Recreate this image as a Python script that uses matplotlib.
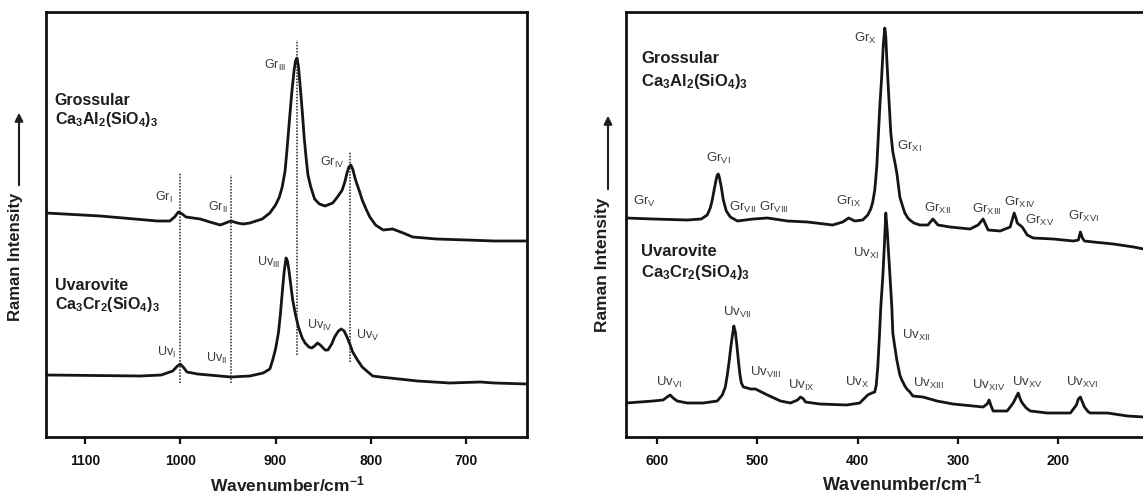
import matplotlib
matplotlib.use('Agg')
import matplotlib.pyplot as plt
from matplotlib.patches import FancyArrowPatch

plt.rcParams['font.family'] = ['Liberation Sans', 'DejaVu Sans']
plt.rcParams['mathtext.default'] = 'regular'

# ---------------- data (left panel: 1140-640 cm-1) ----------------
grL_wn = [1141, 1084, 1024, 1011, 1006, 1002, 998, 994, 979, 969,
          958, 947, 940, 934, 927, 914, 906, 900, 896, 893,
          890, 888, 885.5, 883, 880.5, 879, 877.5, 876, 874.5, 873,
          871.5, 870, 868, 866, 863, 859, 854, 848, 840, 835,
          830, 827, 825, 823, 821, 819, 816, 812, 809, 805,
          801, 795, 787, 777, 766, 756, 731, 699, 670, 636]
grL_int = [224, 221, 216, 216, 220, 225, 223, 220, 218, 215,
           212, 216, 214, 213, 214, 218, 224, 232, 240, 250,
           266, 287, 316, 344, 367, 376, 379, 371, 355, 338,
           320, 300, 280, 262, 250, 238, 233, 231, 234, 240,
           247, 256, 264, 270, 272, 268, 257, 246, 237, 228,
           220, 212, 207, 208, 204, 200, 198, 197, 196, 196]

uvL_wn = [1140, 1042, 1020, 1008, 1003, 1000, 997, 993, 982, 947,
          927, 913, 906, 903, 900, 897, 895, 893, 891, 889,
          887.5, 886, 884, 882, 879, 876, 872, 869, 865, 862,
          859, 856, 853, 851, 848, 845, 841, 838, 834, 831,
          828, 825, 822, 819, 814, 809, 803, 798, 790, 780,
          751, 717, 685, 670, 636]
uvL_int = [62, 61, 62, 66, 71, 73, 70, 65, 63, 60,
           61, 64, 68, 77, 88, 104, 122, 144, 165, 179,
           176, 167, 152, 137, 122, 110, 99, 94, 90, 89,
           91, 94, 92, 90, 87, 87, 93, 100, 106, 108,
           106, 100, 93, 85, 77, 70, 65, 61, 60, 59,
           56, 54, 55, 54, 53]

# dotted guide lines (wavenumber, top, bottom)
guide_wn = [1000, 947, 877, 822]
guide_top = [264, 262, 397, 285]
guide_bot = [54, 54, 82, 75]

grL_labels = ['Gr$_{I}$', 'Gr$_{II}$', 'Gr$_{III}$', 'Gr$_{IV}$']
uvL_labels = ['Uv$_{I}$', 'Uv$_{II}$', 'Uv$_{III}$', 'Uv$_{IV}$', 'Uv$_{V}$']

# ---------------- data (right panel: 630-115 cm-1) ----------------
grR_wn = [631, 604, 570, 556, 550, 547, 545, 543, 541, 540,
          539, 538, 536, 534, 531, 527, 520, 504, 490, 470,
          450, 425, 415, 409, 403, 395, 390, 387, 385, 383,
          381, 380, 378, 376, 374.5, 373, 372, 371, 369, 367,
          365, 363, 361, 358, 355, 353, 350, 348, 344, 338,
          330, 325, 320, 308, 288, 280, 275, 270, 258, 248,
          246, 244, 242, 241, 236, 231, 225, 205, 185, 180,
          178, 176, 174, 165, 145, 125, 115]
grR_int = [219, 218, 217, 218, 222, 229, 237, 248, 258, 262,
           263, 260, 250, 237, 226, 220, 216, 218, 219, 216,
           215, 212, 215, 219, 216, 217, 222, 228, 235, 247,
           270, 290, 330, 362, 392, 409, 400, 378, 340, 304,
           285, 275, 264, 240, 230, 224, 219, 217, 214, 212,
           212, 218, 212, 210, 208, 212, 218, 207, 206, 210,
           217, 224, 218, 214, 210, 202, 199, 198, 196, 197,
           205, 199, 196, 195, 193, 190, 188]

uvR_wn = [631, 617, 604, 594, 590, 587, 584, 580, 570, 554,
          540, 535, 532, 530, 528, 526.5, 525, 523.5, 522, 520.5,
          519, 517.5, 516, 514, 510, 507, 502, 496, 490, 477,
          467, 460, 457, 454, 452, 438, 411, 398, 390, 386,
          383, 381.5, 380, 378.5, 377, 375, 373.5, 372, 370.5, 369,
          368, 366, 365, 363, 361, 358, 356, 353, 351, 348,
          345, 335, 321, 305, 285, 275, 271, 269, 267, 265,
          251, 245, 242, 240, 238, 236, 232, 228, 211, 188,
          182, 180, 178, 176, 174, 170, 168, 151, 131, 115]
uvR_int = [34, 35, 36, 37, 40, 42, 39, 36, 34, 34,
           36, 42, 50, 62, 77, 90, 101, 111, 105, 92,
           77, 63, 54, 50, 49, 48, 48, 45, 42, 36,
           34, 37, 40, 38, 35, 33, 32, 34, 42, 44,
           45, 52, 70, 98, 130, 160, 190, 224, 205, 180,
           164, 130, 104, 90, 77, 62, 57, 51, 48, 45,
           41, 40, 36, 33, 31, 30, 33, 37, 31, 26,
           26, 34, 40, 44, 38, 34, 29, 26, 24, 24,
           32, 38, 40, 35, 30, 25, 24, 24, 21, 20]

grR_labels = ['Gr$_{V}$', 'Gr$_{VI}$', 'Gr$_{VII}$', 'Gr$_{VIII}$', 'Gr$_{IX}$', 'Gr$_{X}$',
              'Gr$_{XI}$', 'Gr$_{XII}$', 'Gr$_{XIII}$', 'Gr$_{XIV}$', 'Gr$_{XV}$', 'Gr$_{XVI}$']
uvR_labels = ['Uv$_{VI}$', 'Uv$_{VII}$', 'Uv$_{VIII}$', 'Uv$_{IX}$', 'Uv$_{X}$', 'Uv$_{XI}$',
              'Uv$_{XII}$', 'Uv$_{XIII}$', 'Uv$_{XIV}$', 'Uv$_{XV}$', 'Uv$_{XVI}$']

left_ticks = [1100, 1000, 900, 800, 700]
right_ticks = [600, 500, 400, 300, 200]

# ---------------- layout (label anchor positions, data coords) ----------------
grL_pos = [(1017, 240), (961, 230), (901, 372), (841, 275)]
uvL_pos = [(1014, 85), (962, 79), (907, 175), (853, 112), (803, 102)]
grR_pos = [(613, 236), (539, 279), (515, 230), (484, 230), (409, 236), (392, 399),
           (348, 291), (320, 229), (271, 228), (238, 235), (219, 217), (175, 221)]
uvR_pos = [(588, 55), (520, 125), (492, 65), (456, 52), (401, 55), (392, 184),
           (342, 102), (329, 54), (270, 52), (231, 55), (176, 55)]

W, H = 1143, 493
fig = plt.figure(figsize=(W / 100, H / 100), dpi=100)


def rect(x0, x1, ytop, ybot):
    return [x0 / W, 1 - ybot / H, (x1 - x0) / W, (ybot - ytop) / H]


axL = fig.add_axes(rect(46, 527, 12, 437))
axR = fig.add_axes(rect(626, 1147, 12, 437))

LC = '#151515'
for ax in (axL, axR):
    ax.set_ylim(0, 425)
    ax.set_yticks([])
    for s in ax.spines.values():
        s.set_linewidth(2.0)
        s.set_color('#111111')
    ax.tick_params(axis='x', direction='out', length=5, width=1.6, pad=7, colors='#111111')

axL.set_xlim(1141, 636)
axR.set_xlim(631, 111.6)

kw = dict(color=LC, lw=2.0, solid_joinstyle='round', solid_capstyle='round')
axL.plot(grL_wn, grL_int, **kw)
axL.plot(uvL_wn, uvL_int, **kw)
axR.plot(grR_wn, grR_int, **kw)
axR.plot(uvR_wn, uvR_int, **kw)

for wn, t, b in zip(guide_wn, guide_top, guide_bot):
    axL.plot([wn, wn], [b, t], color='#222222', lw=1.1, linestyle=(0, (1, 1)))

axL.set_xticks(left_ticks)
axL.set_xticklabels([str(t) for t in left_ticks], fontsize=10, fontweight='bold')
axR.set_xticks(right_ticks)
axR.set_xticklabels([str(t) for t in right_ticks], fontsize=10, fontweight='bold')

PC = '#3a3a3a'
for lab, (x, y) in zip(grL_labels + uvL_labels, grL_pos + uvL_pos):
    axL.text(x, y, lab, fontsize=9, color=PC, ha='center', va='center')
for lab, (x, y) in zip(grR_labels + uvR_labels, grR_pos + uvR_pos):
    axR.text(x, y, lab, fontsize=9.5, color=PC, ha='center', va='center')

SC = '#1e1e1e'
axL.text(1132, 337, 'Grossular', fontsize=11.5, fontweight='bold', color=SC, ha='left', va='center')
axL.text(1132, 318, 'Ca$_3$Al$_2$(SiO$_4$)$_3$', fontsize=11.5, fontweight='bold', color=SC,
         ha='left', va='center')
axL.text(1132, 152, 'Uvarovite', fontsize=11.5, fontweight='bold', color=SC, ha='left', va='center')
axL.text(1132, 132, 'Ca$_3$Cr$_2$(SiO$_4$)$_3$', fontsize=11.5, fontweight='bold', color=SC,
         ha='left', va='center')

axR.text(616, 379, 'Grossular', fontsize=12, fontweight='bold', color=SC, ha='left', va='center')
axR.text(616, 356, 'Ca$_3$Al$_2$(SiO$_4$)$_3$', fontsize=12, fontweight='bold', color=SC,
         ha='left', va='center')
axR.text(616, 186, 'Uvarovite', fontsize=12, fontweight='bold', color=SC, ha='left', va='center')
axR.text(616, 164, 'Ca$_3$Cr$_2$(SiO$_4$)$_3$', fontsize=12, fontweight='bold', color=SC,
         ha='left', va='center')

fig.text(287 / W, 1 - 484 / H, 'Wavenumber/cm$^{-1}$', fontsize=12.5, fontweight='bold',
         ha='center', va='center', color=SC)
fig.text(902 / W, 1 - 485 / H, 'Wavenumber/cm$^{-1}$', fontsize=13, fontweight='bold',
         ha='center', va='center', color=SC)

fig.text(16 / W, 1 - 193 / H, 'Raman Intensity', fontsize=12, fontweight='bold', rotation=90,
         ha='center', va='top', color=SC)
fig.text(602 / W, 1 - 198 / H, 'Raman Intensity', fontsize=12.5, fontweight='bold', rotation=90,
         ha='center', va='top', color=SC)

for xa, y0, y1 in [(19, 188, 110), (608, 192, 113)]:
    fig.add_artist(FancyArrowPatch(
        (xa / W, 1 - y0 / H), (xa / W, 1 - y1 / H), transform=fig.transFigure,
        arrowstyle='-|>', mutation_scale=12, lw=1.5, color=SC))

fig.savefig('out.png', dpi=100)
